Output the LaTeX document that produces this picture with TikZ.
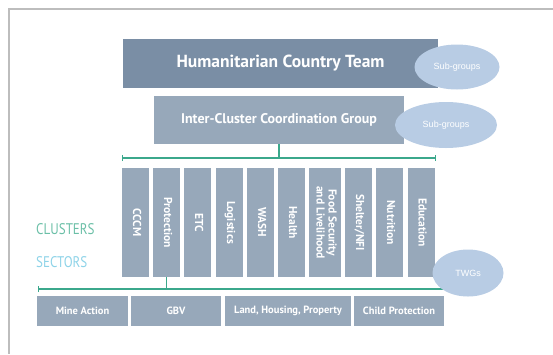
\documentclass[tikz,border=0pt]{standalone}
\usepackage{fontspec}
\usepackage{graphicx}
\usetikzlibrary{arrows.meta,shapes.geometric}
\setmainfont{PT Sans}
\newfontfamily\arialfont{Liberation Sans}

\definecolor{hctblue}{HTML}{7A8EA5}
\definecolor{boxblue}{HTML}{97A8BA}
\definecolor{ellblue}{HTML}{B8CCE4}
\definecolor{linegreen}{HTML}{3BA88C}
\definecolor{clustergreen}{HTML}{6BBFA7}
\definecolor{sectorblue}{HTML}{8ED3E8}
\definecolor{framegray}{HTML}{BDBDBD}

\newcommand{\vlabel}[1]{\rotatebox{-90}{\begin{tabular}{@{}c@{}}#1\end{tabular}}}

\tikzset{
  block/.style={fill=boxblue, text=white, inner sep=0pt},
  bubble/.style={ellipse, fill=ellblue, text=white, inner sep=0pt, font=\arialfont\fontsize{9}{10}\selectfont},
  bar/.style={linegreen, line width=1.2pt},
}

\begin{document}
\begin{tikzpicture}[x=1pt, y=-1pt]
%frame:
\useasboundingbox (0,0) rectangle (553,354);
\draw[framegray, line width=1.5pt] (553,9) -- (9,9) -- (9,354);

%top boxes:
\node[block, fill=hctblue, minimum width=315pt, minimum height=49pt, font=\bfseries\fontsize{17.5}{20}\selectfont] (hct) at (280.5,63.5) {Humanitarian Country Team};
\node[block, minimum width=250pt, minimum height=48pt, font=\bfseries\fontsize{14}{16}\selectfont] (iccg) at (279,120) {Inter-Cluster Coordination Group};
\node[bubble, minimum width=85pt, minimum height=45pt] (sub1) at (457,67) {Sub-groups};
\node[bubble, minimum width=102pt, minimum height=46pt] (sub2) at (446,125) {Sub-groups};

%clusters bar:
\coordinate (barL) at (122,158);
\coordinate (barR) at (436,158);
\draw[bar] (iccg.south) -- (iccg.south |- barL);
\draw[bar, {Bar[width=6pt]}-{Bar[width=6pt]}] (barL) -- (barR);

%clusters:
\foreach \i/\x/\w/\name in {1/135.5/27/CCCM, 2/166.5/27/Protection, 3/197.5/27/ETC, 4/229.5/27/Logistics, 5/260.5/27/WASH, 6/291.5/27/Health, 7/325/32/{Food Security\\and Livelihood}, 8/358.5/27/{Shelter/NFI}, 9/389.5/27/Nutrition, 10/421/27/Education} {
	\node[block, minimum width=\w pt, minimum height=109pt, font=\bfseries\fontsize{11.5}{12}\selectfont] (c\i) at (\x,222.5) {\vlabel{\name}};
}

%sectors bar:
\coordinate (barS) at (38,289);
\coordinate (barE) at (443,289);
\draw[bar] (c2.south) -- (c2.south |- barS);
\draw[bar, {Bar[width=6pt]}-] (barS) -- (barE);

%sectors:
\node[block, minimum width=91pt, minimum height=30pt, font=\bfseries\fontsize{10.5}{12}\selectfont] (s1) at (82.5,311) {Mine Action};
\node[block, minimum width=90pt, minimum height=30pt, font=\bfseries\fontsize{10.5}{12}\selectfont] (s2) at (176,311) {GBV};
\node[block, minimum width=126pt, minimum height=30pt, font=\bfseries\fontsize{10.5}{12}\selectfont] (s3) at (288,311) {Land, Housing, Property};
\node[block, minimum width=90pt, minimum height=30pt, font=\bfseries\fontsize{10.5}{12}\selectfont] (s4) at (399,311) {Child Protection};
\node[bubble, minimum width=71pt, minimum height=47pt] (twgs) at (468,273) {TWGs};

%side labels:
\node[anchor=west, inner sep=0pt, text=clustergreen, font=\fontsize{14}{16}\selectfont] (clusters) at (36,229) {\scalebox{0.93}[1.1]{CLUSTERS}};
\node[anchor=west, inner sep=0pt, text=sectorblue, font=\fontsize{14}{16}\selectfont] (sectors) at (36,262) {\scalebox{0.93}[1.1]{SECTORS}};
\end{tikzpicture}
\end{document}
